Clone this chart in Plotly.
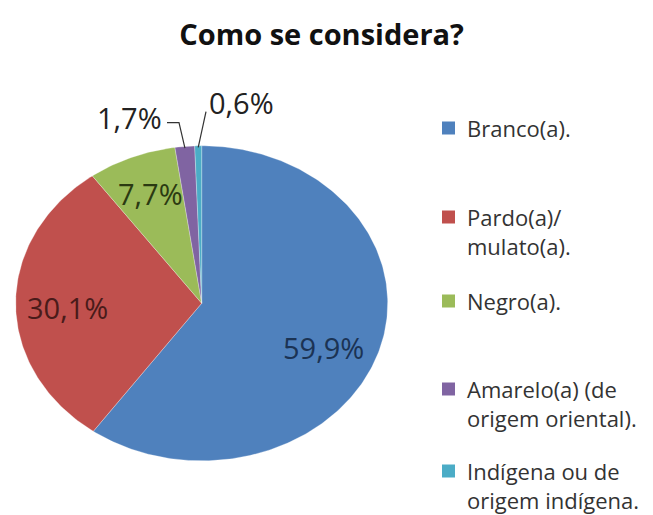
import math
import plotly.graph_objects as go

# Survey answers: "Como se considera?"
categories = [
    "Branco(a).",
    "Pardo(a)/\nmulato(a).",
    "Negro(a).",
    "Amarelo(a) (de\norigem oriental).",
    "Indígena ou de\norigem indígena.",
]
shares = [59.9, 30.1, 7.7, 1.7, 0.6]
colors = ["#4F81BD", "#C0504D", "#9BBB59", "#8064A2", "#4BACC6"]
label_colors = ["#1B3354", "#4A1B1A", "#2B3A12", "#222222", "#222222"]

W, H = 653, 515
CX, CY = 201.7, 303.3      # pie centre (pixel space)
RX, RY = 186.0, 157.5      # pie radii (pixel space)
FONT = "Open Sans"
LEG_SIZE = 22


def edge_point(frac, r=1.0):
    """Point on the pie rim; frac measured clockwise from 12 o'clock."""
    a = 2 * math.pi * frac
    return CX + r * RX * math.sin(a), CY - r * RY * math.cos(a)


fig = go.Figure()

total = sum(shares)
start = 0.0
mids = []
for name, v, c in zip(categories, shares, colors):
    f0 = start / total
    f1 = (start + v) / total
    n = max(4, int(400 * (f1 - f0)))
    xs, ys = [CX], [CY]
    for i in range(n + 1):
        x, y = edge_point(f0 + (f1 - f0) * i / n)
        xs.append(x)
        ys.append(y)
    xs.append(CX)
    ys.append(CY)
    fig.add_trace(go.Scatter(
        x=xs, y=ys, mode="lines", fill="toself", fillcolor=c,
        line=dict(color="rgba(255,255,255,0.35)", width=0.8),
        name=name.replace("\n", " "), showlegend=False,
        hoverinfo="name",
    ))
    mids.append((f0 + f1) / 2)
    start += v

# Data labels
label_pos = [(323, 347), (67, 307), (150, 193), (129, 117), (241, 102)]
for v, (lx, ly), col in zip(shares, label_pos, label_colors):
    fig.add_annotation(
        x=lx, y=ly, xref="x", yref="y", showarrow=False,
        text=f"{v:.1f}%".replace(".", ","),
        font=dict(family=FONT, size=29, color=col),
        xanchor="center", yanchor="middle",
    )

# Leader lines for the two small slices
ex, ey = edge_point(mids[3], 0.99)
fig.add_trace(go.Scatter(
    x=[167, 179, ex], y=[122.7, 122.7, ey], mode="lines",
    line=dict(color="#333333", width=1.2), showlegend=False, hoverinfo="skip",
))
ex, ey = edge_point(mids[4], 0.99)
fig.add_trace(go.Scatter(
    x=[206, ex], y=[111.7, ey], mode="lines",
    line=dict(color="#333333", width=1.2), showlegend=False, hoverinfo="skip",
))

# Legend (markers + wrapped text)
legend_y = [128, 217, 301, 389, 471]
line_h = 1.3 * LEG_SIZE
for name, c, y0 in zip(categories, colors, legend_y):
    fig.add_shape(type="rect", xref="x", yref="y",
                  x0=442, x1=455, y0=y0 - 6.5, y1=y0 + 6.5,
                  fillcolor=c, line=dict(width=0))
    lines = name.split("\n")
    fig.add_annotation(
        x=465, y=y0 + line_h * (len(lines) - 1) / 2, xref="x", yref="y",
        showarrow=False, text="<br>".join(lines),
        xanchor="left", yanchor="middle", align="left",
        font=dict(family=FONT, size=LEG_SIZE, color="#333333"),
    )

fig.update_layout(
    width=W, height=H,
    margin=dict(l=0, r=0, t=0, b=0),
    paper_bgcolor="white", plot_bgcolor="white",
    title=dict(
        text="<b>Como se considera?</b>",
        x=321.6 / W, xanchor="center",
        y=1 - 35 / H, yanchor="middle", yref="container",
        font=dict(family=FONT, size=29, color="#111111"),
    ),
    xaxis=dict(range=[0, W], visible=False, fixedrange=True),
    yaxis=dict(range=[H, 0], visible=False, fixedrange=True),
    showlegend=False,
)

fig.write_html("out.html")
